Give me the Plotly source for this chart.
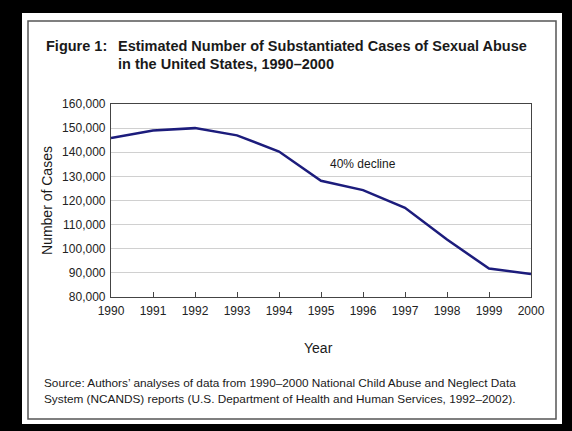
import plotly.graph_objects as go

years = [1990, 1991, 1992, 1993, 1994, 1995, 1996, 1997, 1998, 1999, 2000]
cases = [145900, 149000, 150000, 147000, 140300, 128200, 124300, 117000, 103800, 91800, 89500]
y_ticks = [80000, 90000, 100000, 110000, 120000, 130000, 140000, 150000, 160000]

W, H = 572, 431
def px(x):
    return x / W
def py(y):
    return 1 - y / H

FONT = "Liberation Sans, Arial, sans-serif"

fig = go.Figure()
fig.add_trace(go.Scatter(
    x=years, y=cases, mode="lines",
    line=dict(color="#1c1c7c", width=2.5),
    hoverinfo="skip", showlegend=False,
))

shapes = [
    dict(type="rect", xref="paper", yref="paper", x0=px(22), x1=px(562), y0=py(424), y1=py(13),
         fillcolor="white", line=dict(width=0), layer="below"),
    dict(type="rect", xref="paper", yref="paper", x0=px(28), x1=px(556), y0=py(419), y1=py(21),
         fillcolor="rgba(0,0,0,0)", line=dict(color="#555555", width=1.5), layer="below"),
]

ann = []
def text(x, y, s, size, bold=False, anchor="left", angle=0):
    ann.append(dict(x=px(x), y=py(y), xref="paper", yref="paper", text=s, showarrow=False,
                    xanchor=anchor, yanchor="middle", textangle=angle,
                    font=dict(family=FONT, size=size, color="#1a1a1a")))
    if bold:
        ann[-1]["text"] = "<b>" + s + "</b>"

text(44, 46, "Figure 1:", 14.5, bold=True)
text(116, 46, "Estimated Number of Substantiated Cases of Sexual Abuse", 14.5, bold=True)
text(116, 64, "in the United States, 1990–2000", 14.5, bold=True)
text(47, 200, "Number of Cases", 14, anchor="center", angle=-90)
text(318, 348, "Year", 14, anchor="center")
text(42, 383, "Source: Authors’ analyses of data from 1990–2000 National Child Abuse and Neglect Data", 11.8)
text(42, 399, "System (NCANDS) reports (U.S. Department of Health and Human Services, 1992–2002).", 11.8)

ann.append(dict(x=1996, y=135200, xref="x", yref="y", text="40% decline", showarrow=False,
                font=dict(family=FONT, size=12, color="#1a1a1a")))

fig.update_layout(
    width=W, height=H,
    margin=dict(l=0, r=0, t=0, b=0, pad=0),
    paper_bgcolor="black",
    plot_bgcolor="white",
    shapes=shapes,
    annotations=ann,
    xaxis=dict(
        domain=[px(111), px(531)], range=[1990, 2000], tickmode="array", tickvals=years,
        ticks="inside", ticklen=5, tickcolor="#444", showline=True, mirror=True,
        linecolor="#444", linewidth=1.2, showgrid=False, zeroline=False, automargin=False,
        ticklabelstandoff=2,
        tickfont=dict(family=FONT, size=12, color="#222"),
    ),
    yaxis=dict(
        domain=[py(297), py(104)], range=[80000, 160000], tickmode="array", tickvals=y_ticks,
        tickformat=",", showline=True, mirror=True, linecolor="#444", linewidth=1.2,
        showgrid=True, gridcolor="#d0d0d0", gridwidth=1, zeroline=False, automargin=False,
        ticklabelstandoff=2,
        tickfont=dict(family=FONT, size=12, color="#222"),
    ),
)

fig.write_html(
    "out.html",
    config={"displayModeBar": False},
    post_script="document.body.style.margin='0';document.body.style.background='black';"
                "document.body.style.overflow='hidden';",
)
